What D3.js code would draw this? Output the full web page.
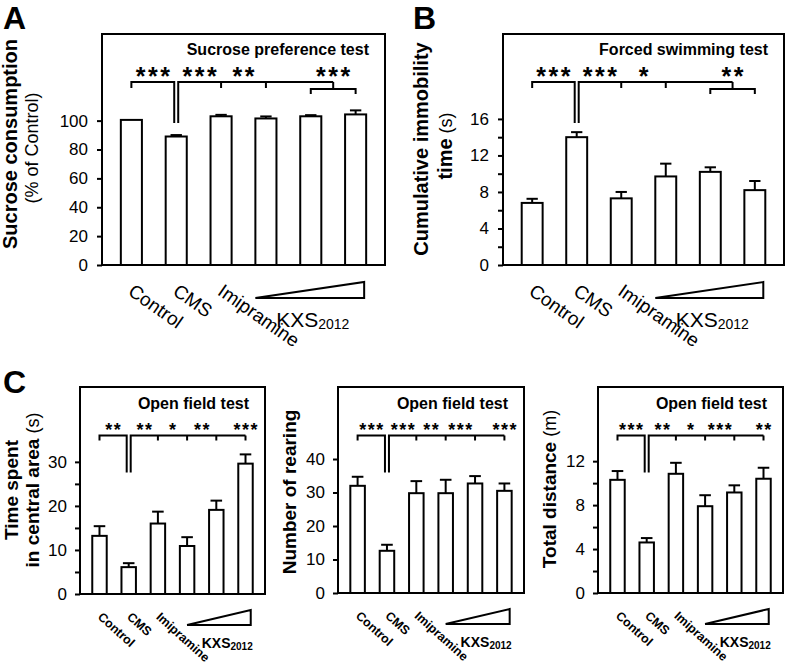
<!DOCTYPE html>
<html><head><meta charset="utf-8">
<script src="https://cdn.jsdelivr.net/npm/d3@7"></script>
<style>
body{margin:0;background:#fff}
svg{display:block}
text{font-family:"Liberation Sans",Arial,Helvetica,sans-serif;fill:#000}
</style>
</head><body>
<svg id="chart" width="787" height="664"></svg>
<script>
// ---------- data ----------
const groups = ["Control", "CMS", "Imipramine", "KXS2012 low", "KXS2012 mid", "KXS2012 high"];
const xLabels = ["Control", "CMS", "Imipramine"];
const doseLabel = "KXS";
const doseSub = "2012";

const sucroseMean = [100.5, 89, 103, 101.5, 103, 104.3];
const sucroseErr  = [0, 1.0, 1.0, 1.4, 0.8, 2.8];
const sucroseTicks = [0, 20, 40, 60, 80, 100];
const sucroseMinor = [];
const sucroseSig = ["***", "***", "**", "***"];
const sucroseSigGroups = [[2], [3], [4, 5]];

const immobMean = [6.8, 14.0, 7.3, 9.7, 10.2, 8.2];
const immobErr  = [0.45, 0.55, 0.7, 1.4, 0.5, 1.0];
const immobTicks = [0, 4, 8, 12, 16];
const immobMinor = [2, 6, 10, 14];
const immobSig = ["***", "***", "*", "**"];
const immobSigGroups = [[2], [3], [4, 5]];

const centralMean = [13.2, 6.1, 16.0, 10.9, 19.1, 29.6];
const centralErr  = [2.2, 0.9, 2.7, 2.0, 2.1, 2.1];
const centralTicks = [0, 10, 20, 30];
const centralMinor = [5, 15, 25];
const centralSig = ["**", "**", "*", "**", "***"];
const centralSigGroups = [[2], [3], [4], [5]];

const rearingMean = [32.0, 12.6, 29.8, 29.8, 32.7, 30.5];
const rearingErr  = [2.7, 1.8, 3.6, 4.0, 2.2, 2.2];
const rearingTicks = [0, 10, 20, 30, 40];
const rearingMinor = [];
const rearingSig = ["***", "***", "**", "***", "***"];
const rearingSigGroups = [[2], [3], [4], [5]];

const distanceMean = [10.3, 4.6, 10.85, 7.9, 9.15, 10.4];
const distanceErr  = [0.8, 0.4, 1.0, 1.0, 0.65, 1.0];
const distanceTicks = [0, 4, 8, 12];
const distanceMinor = [2, 6, 10];
const distanceSig = ["***", "**", "*", "***", "**"];
const distanceSigGroups = [[2], [3], [4], [5]];

// ---------- styles ----------
const big = {
  pIn: 0.53, pOut: 0.42, tickFont: 17, tickPad: 9, titleFont: 16, titleDy: 21,
  starFont: 25, starSpacing: 2.5, starDy: 36, brDy: 48, brTick: 6, subDy: 7, subTick: 5, dropLen: 41,
  xFont: 19, xWeight: 400, xAngle: 35, xDx: -4.5, xDy: 29, capR: 0.27,
  triFromCenter: false, triY0: 17, triY1: 33, kxsFont: 21, kxsSubFont: 14, kxsDy: 62, kxsAnchor: "middle", kxsShift: 3
};
const small = {
  pIn: 0.505, pOut: 0.42, tickFont: 17, tickPad: 8, titleFont: 16, titleDy: 22,
  starFont: 18, starSpacing: 1.5, starDy: 39, brDy: 48.5, brTick: 5, subDy: 7, subTick: 5, dropLen: 37,
  xFont: 12.5, xWeight: 700, xAngle: 42, xDx: -2.5, xDy: 24, capR: 0.4,
  triFromCenter: true, triY0: 16, triY1: 31, kxsFont: 14, kxsSubFont: 10, kxsDy: 54, kxsAnchor: "end", kxsShift: 2
};

const panels = [
  { box: [102, 34, 385, 265], yMax: 160, mean: sucroseMean, err: sucroseErr, ticks: sucroseTicks, minor: sucroseMinor,
    title: "Sucrose preference test", sig: sucroseSig, sigGroups: sucroseSigGroups, st: big,
    letter: { t: "A", x: 3, y: 29 },
    yLab: [ { x: 17, y: 144, parts: [["Sucrose consumption", 700, 20]] },
            { x: 38, y: 148, parts: [["(% of Control)", 400, 18]] } ] },
  { box: [503, 34, 784, 265], yMax: 25.3, mean: immobMean, err: immobErr, ticks: immobTicks, minor: immobMinor,
    title: "Forced swimming test", sig: immobSig, sigGroups: immobSigGroups, st: big,
    letter: { t: "B", x: 413, y: 29 },
    yLab: [ { x: 428, y: 149, parts: [["Cumulative immobility", 700, 20]] },
            { x: 452, y: 146, parts: [["time", 700, 20], [" (s)", 400, 18]] } ] },
  { box: [80, 387, 265, 594], yMax: 47, mean: centralMean, err: centralErr, ticks: centralTicks, minor: centralMinor,
    title: "Open field test", sig: centralSig, sigGroups: centralSigGroups, st: small,
    letter: { t: "C", x: 3, y: 393 },
    yLab: [ { x: 18, y: 490, parts: [["Time spent", 700, 19]] },
            { x: 39, y: 490, parts: [["in central area", 700, 19], [" (s)", 400, 18]] } ] },
  { box: [338, 387, 524, 593], yMax: 61.5, mean: rearingMean, err: rearingErr, ticks: rearingTicks, minor: rearingMinor,
    title: "Open field test", sig: rearingSig, sigGroups: rearingSigGroups, st: small,
    yLab: [ { x: 296, y: 492, parts: [["Number of rearing", 700, 19]] } ] },
  { box: [598, 387, 783, 593], yMax: 18.75, mean: distanceMean, err: distanceErr, ticks: distanceTicks, minor: distanceMinor,
    title: "Open field test", sig: distanceSig, sigGroups: distanceSigGroups, st: small,
    yLab: [ { x: 556, y: 489, parts: [["Total distance", 700, 19], [" (m)", 400, 18]] } ] }
];

const svg = d3.select("#chart");

function drawPanel(p) {
  const st = p.st;
  const [x0, y0, x1, y1] = p.box;
  const g = svg.append("g");
  const x = d3.scaleBand().domain(groups).range([x0, x1]).paddingInner(st.pIn).paddingOuter(st.pOut);
  const y = d3.scaleLinear().domain([0, p.yMax]).range([y1, y0]);
  const bw = x.bandwidth();
  const cx = i => x(groups[i]) + bw / 2;

  // y axis major
  const ax = g.append("g").attr("transform", `translate(${x0},0)`)
    .call(d3.axisLeft(y).tickValues(p.ticks).tickSize(5).tickPadding(st.tickPad).tickFormat(d3.format("d")));
  ax.select(".domain").remove();
  ax.selectAll("line").attr("stroke", "#000").attr("stroke-width", 2);
  ax.selectAll("text").attr("font-size", st.tickFont).attr("font-family", "Liberation Sans, Arial, sans-serif");
  if (p.minor.length) {
    const mx = g.append("g").attr("transform", `translate(${x0},0)`)
      .call(d3.axisLeft(y).tickValues(p.minor).tickSize(5).tickFormat(""));
    mx.select(".domain").remove();
    mx.selectAll("line").attr("stroke", "#000").attr("stroke-width", 2);
  }

  // frame
  g.append("rect").attr("x", x0).attr("y", y0).attr("width", x1 - x0).attr("height", y1 - y0)
    .attr("fill", "none").attr("stroke", "#000").attr("stroke-width", 2);

  // error bars
  const eb = g.append("g").attr("stroke", "#000").attr("stroke-width", 2);
  p.mean.forEach((m, i) => {
    const e = p.err[i];
    if (e <= 0) return;
    const c = cx(i), cw = bw * st.capR;
    eb.append("line").attr("x1", c).attr("x2", c).attr("y1", y(m)).attr("y2", y(m + e));
    eb.append("line").attr("x1", c - cw).attr("x2", c + cw).attr("y1", y(m + e)).attr("y2", y(m + e));
  });

  // bars
  g.append("g").selectAll("rect").data(p.mean).join("rect")
    .attr("x", (d, i) => x(groups[i])).attr("width", bw)
    .attr("y", d => y(d)).attr("height", d => y(0) - y(d))
    .attr("fill", "#fff").attr("stroke", "#000").attr("stroke-width", 2);

  // title
  g.append("text").attr("x", x1 - 16).attr("y", y0 + st.titleDy).attr("text-anchor", "end")
    .attr("font-size", st.titleFont).attr("font-weight", 700).text(p.title);

  // significance brackets
  const yb = y0 + st.brDy;
  const cL = cx(1) - 2, cR = cx(1) + 2;
  const br = g.append("g").attr("stroke", "#000").attr("stroke-width", 2).attr("fill", "none");
  br.append("path").attr("d", `M${cx(0)},${yb + st.brTick}V${yb}H${cL}V${yb + st.dropLen}`);
  const tickXs = p.sigGroups.map(gr => gr.length === 1 ? cx(gr[0]) : (cx(gr[0]) + cx(gr[gr.length - 1])) / 2);
  const lastX = tickXs[tickXs.length - 1];
  br.append("path").attr("d", `M${cR},${yb + st.dropLen}V${yb}H${lastX}`);
  p.sigGroups.forEach((gr, k) => {
    if (gr.length === 1) {
      br.append("path").attr("d", `M${tickXs[k]},${yb}V${yb + st.brTick}`);
    } else {
      const ys = yb + st.subDy;
      br.append("path").attr("d", `M${tickXs[k]},${yb}V${ys}`);
      br.append("path").attr("d", `M${cx(gr[0])},${ys + st.subTick}V${ys}H${cx(gr[gr.length - 1])}V${ys + st.subTick}`);
    }
  });
  // star labels
  const starX = [(cx(0) + cL) / 2];
  tickXs.forEach((t, k) => {
    if (k === tickXs.length - 1) starX.push(t);
    else starX.push(((k === 0 ? cR : tickXs[k - 1]) + t) / 2);
  });
  p.sig.forEach((s, k) => {
    g.append("text").attr("x", starX[k]).attr("y", y0 + st.starDy + st.starFont * 0.58)
      .attr("text-anchor", "middle").attr("font-size", st.starFont).attr("font-weight", 700)
      .attr("letter-spacing", st.starSpacing).attr("dx", st.starSpacing / 2).text(s);
  });

  // x labels
  xLabels.forEach((lab, i) => {
    g.append("text")
      .attr("transform", `translate(${cx(i) + st.xDx},${y1 + st.xDy}) rotate(${st.xAngle})`)
      .attr("font-size", st.xFont).attr("font-weight", st.xWeight).text(lab);
  });
  // dose triangle
  const tx0 = st.triFromCenter ? cx(3) : x(groups[3]);
  const tx1 = x(groups[5]) + bw - 2;
  g.append("path").attr("d", `M${tx0},${y1 + st.triY1}L${tx1},${y1 + st.triY0}V${y1 + st.triY1}Z`)
    .attr("fill", "#fff").attr("stroke", "#000").attr("stroke-width", 2).attr("stroke-linejoin", "miter");
  const kx = st.kxsAnchor === "middle" ? (tx0 + tx1) / 2 + st.kxsShift : tx1 + st.kxsShift;
  const kt = g.append("text").attr("x", kx).attr("y", y1 + st.kxsDy).attr("text-anchor", st.kxsAnchor)
    .attr("font-size", st.kxsFont).attr("font-weight", st.xWeight);
  kt.append("tspan").text(doseLabel);
  kt.append("tspan").attr("font-size", st.kxsSubFont).attr("dy", 2).text(doseSub);

  // y labels
  p.yLab.forEach(l => {
    const t = g.append("text").attr("transform", `translate(${l.x},${l.y}) rotate(-90)`).attr("text-anchor", "middle");
    l.parts.forEach(([s, w, f]) => t.append("tspan").attr("font-weight", w).attr("font-size", f).text(s));
  });

  if (p.letter) {
    svg.append("text").attr("x", p.letter.x).attr("y", p.letter.y).attr("font-size", 32)
      .attr("font-weight", 700).text(p.letter.t);
  }
}

panels.forEach(drawPanel);
</script>
</body></html>
